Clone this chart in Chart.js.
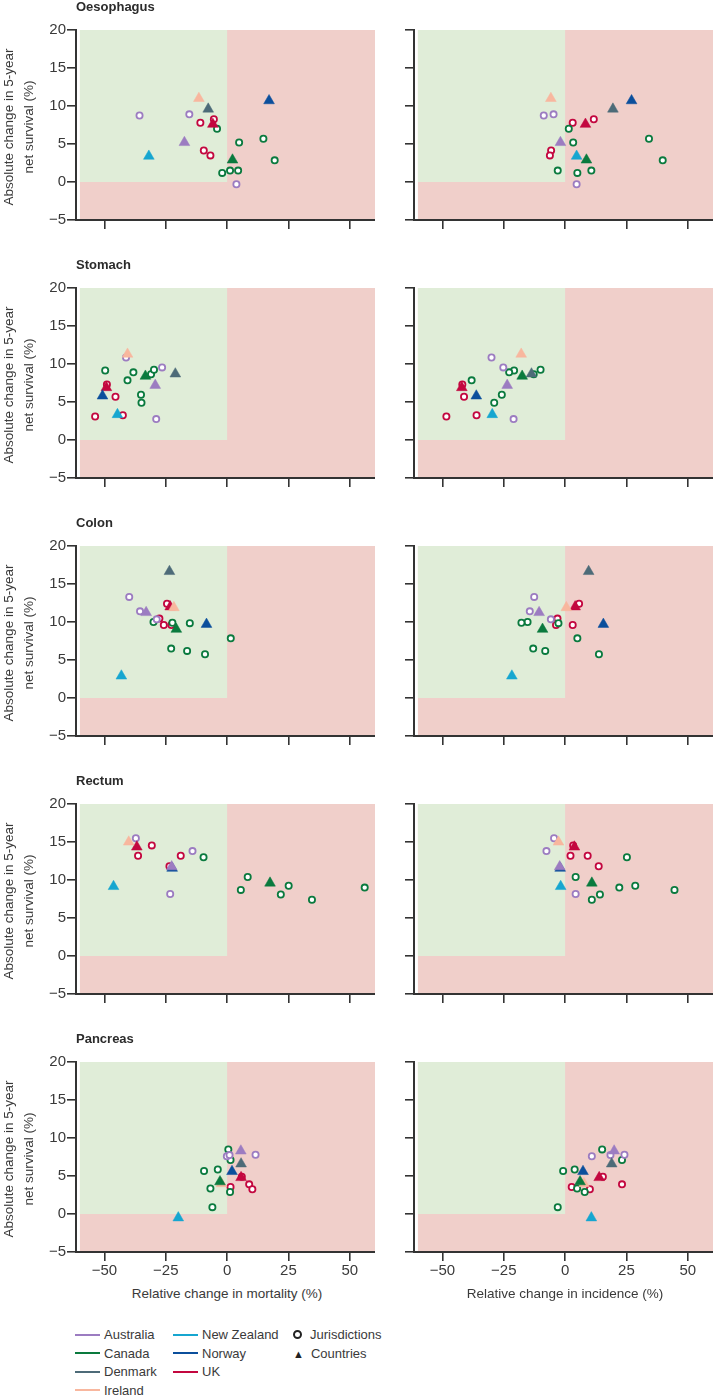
<!DOCTYPE html>
<html>
<head>
<meta charset="utf-8">
<script src="https://cdn.jsdelivr.net/npm/chart.js@4.4.1/dist/chart.umd.min.js"></script>
<style>
  body { margin: 0; background: #fff; font-family: "Liberation Sans", Arial, sans-serif; color: #333; }
  #page { position: relative; width: 713px; height: 1396px; overflow: hidden; }
  canvas { position: absolute; }
  .title { position: absolute; font-size: 13px; font-weight: bold; color: #2b2b2b; white-space: nowrap; }
  .ylab { position: absolute; width: 220px; height: 40px; line-height: 20px; font-size: 13.5px; text-align: center; transform: rotate(-90deg); white-space: nowrap; color: #3a3a3a; }
  .xlab { position: absolute; width: 300px; text-align: center; font-size: 13.5px; color: #3a3a3a; white-space: nowrap; }
  .leg { position: absolute; font-size: 13px; color: #3a3a3a; white-space: nowrap; line-height: 16px; }
  .leg i { display: inline-block; width: 25px; height: 2px; vertical-align: middle; margin-right: 4px; margin-top: -2px; }
  .leg b { display: inline-block; box-sizing: border-box; width: 9px; height: 9px; border: 2px solid #222; border-radius: 50%; margin-right: 8px; vertical-align: middle; margin-top: -3px; }
  .leg u { text-decoration: none; font-size: 11px; margin-right: 7px; color: #222; }
</style>
</head>
<body>
<div id="page"></div>
<script>
const countries = ["Australia", "Canada", "Denmark", "Ireland", "New Zealand", "Norway", "UK"];
const colours = ["#9c7cc1", "#0a7a3e", "#4d6b78", "#f8b79e", "#16a6d0", "#0b4f9c", "#c3073f"];
const cancers = ["Oesophagus", "Stomach", "Colon", "Rectum", "Pancreas"];
const xTicks = [-50, -25, 0, 25, 50];
const yTicks = [-5, 0, 5, 10, 15, 20];
const xTitles = ["Relative change in mortality (%)", "Relative change in incidence (%)"];
const yTitle = ["Absolute change in 5-year", "net survival (%)"];
const markerLabels = ["Jurisdictions", "Countries"];

// rows: [country, relative change in mortality, relative change in incidence, absolute change in survival]
const oesophagusJurisdictions = [
  ["Australia", -35.7, -8.7, 8.75], ["Australia", -15.4, -4.7, 8.9], ["Australia", 3.8, 4.7, -0.3],
  ["Canada", -4.1, 1.5, 7.0], ["Canada", 4.9, 3.3, 5.2], ["Canada", 14.8, 34.2, 5.7],
  ["Canada", 19.4, 39.8, 2.85], ["Canada", -2.0, 5.0, 1.2], ["Canada", 1.2, -3.0, 1.5],
  ["Canada", 4.5, 10.7, 1.5],
  ["UK", -10.9, 3.1, 7.8], ["UK", -5.4, 11.7, 8.25], ["UK", -9.5, -5.7, 4.15], ["UK", -6.8, -6.2, 3.5]
];
const oesophagusCountries = [
  ["Australia", -17.4, -1.9, 5.2], ["Canada", 2.2, 8.7, 2.9], ["Denmark", -7.7, 19.5, 9.6],
  ["Ireland", -11.5, -5.8, 11.0], ["New Zealand", -31.9, 4.7, 3.4], ["Norway", 17.1, 27.1, 10.7],
  ["UK", -5.8, 8.3, 7.6]
];

const stomachJurisdictions = [
  ["Australia", -41.2, -30.0, 10.85], ["Australia", -26.5, -25.2, 9.55], ["Australia", -28.9, -21.0, 2.75],
  ["Canada", -49.7, -20.8, 9.15], ["Canada", -38.2, -22.8, 8.9], ["Canada", -40.6, -38.1, 7.85],
  ["Canada", -31.0, -12.8, 8.65], ["Canada", -29.8, -10.0, 9.25], ["Canada", -35.1, -25.8, 5.95],
  ["Canada", -34.9, -28.9, 4.9],
  ["UK", -49.0, -41.9, 7.3], ["UK", -45.5, -41.2, 5.7], ["UK", -42.5, -36.1, 3.25], ["UK", -53.8, -48.4, 3.1]
];
const stomachCountries = [
  ["Australia", -29.3, -23.6, 7.2], ["Canada", -33.3, -17.5, 8.4], ["Denmark", -21.1, -13.7, 8.7],
  ["Ireland", -40.6, -17.9, 11.3], ["New Zealand", -44.7, -29.7, 3.35], ["Norway", -50.8, -36.2, 5.8],
  ["UK", -49.2, -42.1, 6.9]
];

const colonJurisdictions = [
  ["Australia", -39.9, -12.6, 13.3], ["Australia", -35.5, -14.4, 11.4], ["Australia", -28.7, -5.8, 10.35],
  ["Canada", -30.0, -15.3, 10.0], ["Canada", -22.3, -17.8, 9.9], ["Canada", -15.2, -2.7, 9.85],
  ["Canada", 1.5, 5.0, 7.85], ["Canada", -22.8, -13.0, 6.5], ["Canada", -16.3, -8.1, 6.2],
  ["Canada", -9.0, 13.8, 5.75],
  ["UK", -24.5, 5.7, 12.4], ["UK", -27.6, -3.1, 10.45], ["UK", -25.8, -3.7, 9.6], ["UK", -22.7, 3.1, 9.6]
];
const colonCountries = [
  ["Australia", -33.0, -10.6, 11.25], ["Canada", -20.7, -9.2, 9.05], ["Denmark", -23.5, 9.6, 16.65],
  ["Ireland", -21.7, 0.5, 11.9], ["New Zealand", -43.1, -21.7, 2.9], ["Norway", -8.4, 15.6, 9.7],
  ["UK", -23.2, 4.1, 12.0]
];

const rectumJurisdictions = [
  ["Australia", -37.2, -4.5, 15.5], ["Australia", -14.1, -7.6, 13.8], ["Australia", -23.2, 4.3, 8.15],
  ["Canada", -9.6, 25.2, 13.0], ["Canada", 8.4, 4.3, 10.4], ["Canada", 5.6, 44.6, 8.7],
  ["Canada", 21.9, 14.2, 8.1], ["Canada", 25.1, 28.6, 9.25], ["Canada", 34.6, 10.9, 7.4],
  ["Canada", 56.1, 22.1, 9.0],
  ["UK", -30.7, 3.3, 14.55], ["UK", -36.3, 2.2, 13.2], ["UK", -18.9, 9.2, 13.2], ["UK", -23.5, 13.7, 11.8]
];
const rectumCountries = [
  ["Australia", -22.6, -2.2, 11.75], ["Canada", 17.5, 10.9, 9.6], ["Denmark", -34.8, 18.7, 21.1],
  ["Ireland", -40.1, -2.7, 15.0], ["New Zealand", -46.3, -1.8, 9.15], ["Norway", -22.4, -2.0, 11.55],
  ["UK", -36.8, 3.8, 14.35]
];

const pancreasJurisdictions = [
  ["Australia", -0.1, 10.9, 7.6], ["Australia", 1.0, 18.5, 7.75], ["Australia", 11.6, 24.2, 7.8],
  ["Canada", 0.5, 15.1, 8.5], ["Canada", 1.4, 23.2, 7.1], ["Canada", -9.4, -0.8, 5.65],
  ["Canada", -3.8, 3.9, 5.85], ["Canada", -6.8, 4.9, 3.35], ["Canada", 1.2, 8.0, 2.9],
  ["Canada", -6.0, -3.0, 0.9],
  ["UK", 1.4, 2.7, 3.55], ["UK", 9.0, 23.2, 3.9], ["UK", 10.3, 10.1, 3.25], ["UK", 6.0, 15.4, 4.9]
];
const pancreasCountries = [
  ["Australia", 5.6, 20.0, 8.3], ["Canada", -2.9, 6.1, 4.25], ["Denmark", 5.7, 19.0, 6.6],
  ["Ireland", -2.3, 7.7, 4.0], ["New Zealand", -19.9, 10.7, -0.5], ["Norway", 2.0, 7.3, 5.6],
  ["UK", 5.7, 13.9, 4.8]
];

const jurisdictionRows = [oesophagusJurisdictions, stomachJurisdictions, colonJurisdictions, rectumJurisdictions, pancreasJurisdictions];
const countryRows = [oesophagusCountries, stomachCountries, colonCountries, rectumCountries, pancreasCountries];

// layout
const X_MIN = -61.6, X_MAX = 60.3;
const PANEL_W = 375, AXIS_W = 76, TOP_PAD = 30, PLOT_H = 190, ROW_STEP = 258;
const GREEN = "#e0edd8", PINK = "#f0cfca", INK = "#333";

const page = document.getElementById("page");

const zones = {
  id: "zones",
  beforeDraw(chart) {
    const { ctx, chartArea, scales: { x, y } } = chart;
    const left = x.getPixelForValue(-60);
    const zeroX = x.getPixelForValue(0);
    const top = y.getPixelForValue(20);
    const zeroY = y.getPixelForValue(0);
    const bottom = y.getPixelForValue(-5);
    ctx.save();
    ctx.fillStyle = PINK;
    ctx.fillRect(left, top, chartArea.right - left, bottom - top);
    ctx.fillStyle = GREEN;
    ctx.fillRect(left, top, zeroX - left, zeroY - top);
    ctx.restore();
  }
};

function minus(v) {
  return v < 0 ? "\u2212" + Math.abs(v) : String(v);
}

function makePanel(row, col) {
  const last = row === cancers.length - 1;
  const xh = last ? 30 : 12;
  const canvas = document.createElement("canvas");
  canvas.width = PANEL_W;
  canvas.height = TOP_PAD + PLOT_H + xh;
  canvas.style.left = (col === 0 ? 0 : 338) + "px";
  canvas.style.top = row * ROW_STEP + "px";
  page.appendChild(canvas);

  const field = col + 1;
  const datasets = [];
  countries.forEach((name, i) => {
    datasets.push({
      label: name,
      data: countryRows[row].filter(d => d[0] === name).map(d => ({ x: d[field], y: d[3] })),
      pointStyle: "triangle",
      pointRadius: 6.2,
      borderWidth: 0.5,
      borderColor: colours[i],
      backgroundColor: colours[i],
      clip: false
    });
  });
  countries.forEach((name, i) => {
    datasets.push({
      label: name + " jurisdictions",
      data: jurisdictionRows[row].filter(d => d[0] === name).map(d => ({ x: d[field], y: d[3] })),
      pointStyle: "circle",
      pointRadius: 3.1,
      borderWidth: 1.8,
      borderColor: colours[i],
      backgroundColor: "#fff",
      clip: false
    });
  });

  new Chart(canvas.getContext("2d"), {
    type: "scatter",
    data: { datasets },
    plugins: [zones],
    options: {
      responsive: false,
      animation: false,
      devicePixelRatio: 1,
      layout: { autoPadding: false, padding: { top: TOP_PAD, left: 0, right: 0, bottom: 0 } },
      plugins: { legend: { display: false }, tooltip: { enabled: false } },
      scales: {
        x: {
          type: "linear",
          min: X_MIN,
          max: X_MAX,
          afterBuildTicks: s => { s.ticks = xTicks.map(v => ({ value: v })); },
          afterFit: s => { s.height = xh; },
          grid: { drawOnChartArea: false, tickLength: 9, color: INK, lineWidth: 1.6 },
          border: { color: INK, width: 2 },
          ticks: {
            display: last,
            padding: 1,
            color: "#3a3a3a",
            font: { family: "'Liberation Sans', Arial, sans-serif", size: 15 },
            callback: v => minus(v)
          }
        },
        y: {
          type: "linear",
          min: -5,
          max: 20,
          afterBuildTicks: s => { s.ticks = yTicks.map(v => ({ value: v })); },
          afterFit: s => { s.width = AXIS_W; },
          grid: { drawOnChartArea: false, tickLength: 9, color: INK, lineWidth: 1.6 },
          border: { color: INK, width: 2 },
          ticks: {
            display: col === 0,
            padding: 1,
            color: "#3a3a3a",
            font: { family: "'Liberation Sans', Arial, sans-serif", size: 15 },
            callback: v => minus(v)
          }
        }
      }
    }
  });
}

cancers.forEach((name, row) => {
  makePanel(row, 0);
  makePanel(row, 1);
  const plotTop = row * ROW_STEP + TOP_PAD;

  const t = document.createElement("div");
  t.className = "title";
  t.textContent = name;
  t.style.left = "76px";
  t.style.top = (plotTop - 31) + "px";
  page.appendChild(t);

  const yl = document.createElement("div");
  yl.className = "ylab";
  yl.innerHTML = yTitle.join("<br>");
  yl.style.left = (18.5 - 110) + "px";
  yl.style.top = (plotTop + 97 - 20) + "px";
  page.appendChild(yl);
});

xTitles.forEach((txt, col) => {
  const d = document.createElement("div");
  d.className = "xlab";
  d.textContent = txt;
  d.style.left = ((col === 0 ? 227 : 565) - 150) + "px";
  d.style.top = "1286px";
  page.appendChild(d);
});

// legend
const legendCols = [[0, 1, 2, 3], [4, 5, 6]];
legendCols.forEach((idx, c) => {
  idx.forEach((i, r) => {
    const d = document.createElement("div");
    d.className = "leg";
    d.innerHTML = '<i style="background:' + colours[i] + '"></i>' + countries[i];
    d.style.left = (c === 0 ? 75 : 173) + "px";
    d.style.top = (1327 + r * 18.5) + "px";
    page.appendChild(d);
  });
});
markerLabels.forEach((txt, r) => {
  const d = document.createElement("div");
  d.className = "leg";
  d.innerHTML = (r === 0 ? "<b></b>" : "<u>\u25B2</u>") + txt;
  d.style.left = "293px";
  d.style.top = (1327 + r * 18.5) + "px";
  page.appendChild(d);
});
</script>
</body>
</html>
